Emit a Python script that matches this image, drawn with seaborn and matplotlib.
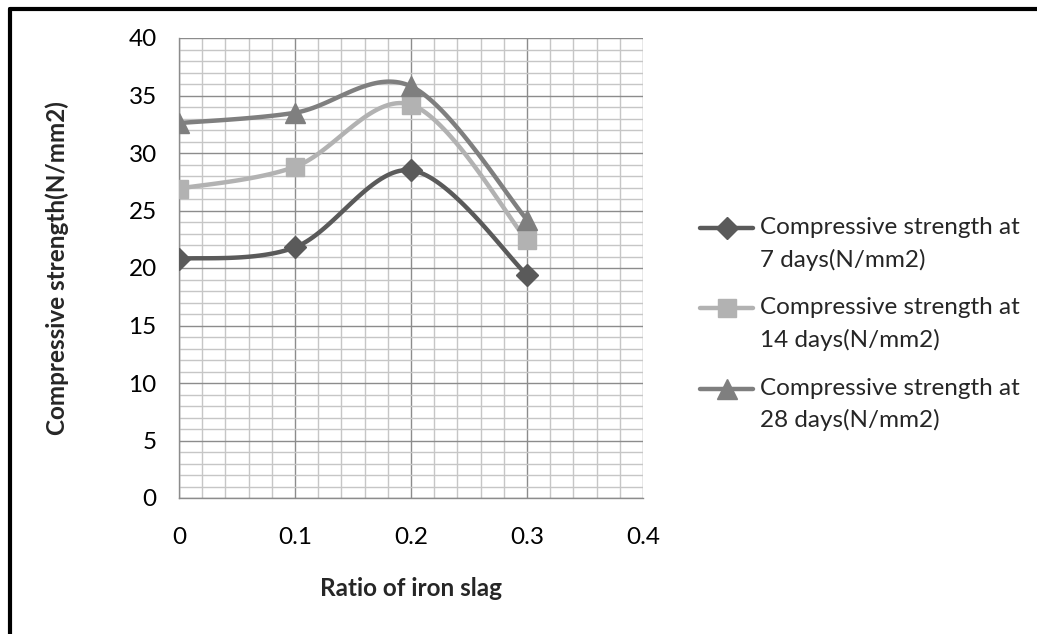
import numpy as np
import pandas as pd
import matplotlib
matplotlib.use("Agg")
import matplotlib.pyplot as plt
import seaborn as sns
from matplotlib.lines import Line2D
from matplotlib.legend_handler import HandlerLine2D
from matplotlib.ticker import MultipleLocator

ratio = [0.0, 0.1, 0.2, 0.3]
strength_7 = [20.8, 21.8, 28.5, 19.4]
strength_14 = [26.9, 28.8, 34.2, 22.4]
strength_28 = [32.6, 33.5, 35.8, 24.2]
series_labels = ["Compressive strength at\n7 days(N/mm2)",
                 "Compressive strength at\n14 days(N/mm2)",
                 "Compressive strength at\n28 days(N/mm2)"]
x_ticks = [0, 0.1, 0.2, 0.3, 0.4]
y_ticks = [0, 5, 10, 15, 20, 25, 30, 35, 40]

colors = ["#5a5a5a", "#b2b2b2", "#7f7f7f"]
markers = ["D", "s", "^"]
msizes = [11, 13, 14]
FS = 17.5

sns.set_style("white")
plt.rcParams['font.family'] = ['Lato', 'DejaVu Sans']


def smooth(xs, ys, n=40):
    """Excel-like smoothed line (Catmull-Rom Bezier) through the data points."""
    P = np.column_stack([xs, ys]).astype(float)
    m = len(P)
    out = [P[:1]]
    t = np.linspace(0, 1, n)[1:, None]
    for i in range(m - 1):
        p_prev = P[i - 1] if i > 0 else P[i]
        p_next2 = P[i + 2] if i + 2 < m else P[i + 1]
        c1 = P[i] + (P[i + 1] - p_prev) / 6
        c2 = P[i + 1] - (p_next2 - P[i]) / 6
        seg = ((1 - t) ** 3) * P[i] + 3 * ((1 - t) ** 2) * t * c1 + 3 * (1 - t) * t ** 2 * c2 + t ** 3 * P[i + 1]
        out.append(seg)
    return np.vstack(out)


class TopHandler(HandlerLine2D):
    """Place the legend symbol level with the first line of a two-line label."""
    def __init__(self, shift, **kw):
        super().__init__(**kw)
        self.shift = shift

    def create_artists(self, legend, orig_handle, xdescent, ydescent, width, height, fontsize, trans):
        return super().create_artists(legend, orig_handle, xdescent, ydescent - self.shift,
                                      width, height, fontsize, trans)


fig = plt.figure(figsize=(10.37, 6.34), dpi=100)
ax = fig.add_axes([179 / 1037, 136 / 634, (643 - 179) / 1037, (498 - 38) / 634])

handles = []
for ys, c, mk, ms, lab in zip([strength_7, strength_14, strength_28], colors, markers, msizes, series_labels):
    curve = smooth(ratio, ys)
    df = pd.DataFrame({"x": curve[:, 0], "y": curve[:, 1]})
    sns.lineplot(data=df, x="x", y="y", sort=False, estimator=None, color=c, lw=3.2, ax=ax, zorder=3)
    ax.plot(ratio, ys, linestyle="none", marker=mk, markersize=ms, color=c, zorder=4)
    handles.append(Line2D([0], [0], color=c, lw=3.2, marker=mk, markersize=ms))

ax.set_xlim(0, 0.4)
ax.set_ylim(0, 40)
ax.set_xticks(x_ticks)
ax.set_xticklabels([f"{v:g}" for v in x_ticks])
ax.set_yticks(y_ticks)
ax.set_yticklabels([str(v) for v in y_ticks])
ax.xaxis.set_minor_locator(MultipleLocator(0.02))
ax.yaxis.set_minor_locator(MultipleLocator(1))
ax.grid(which="minor", color="#c6c6c6", lw=1.0, zorder=0)
ax.grid(which="major", color="#8c8c8c", lw=1.0, zorder=1)
ax.set_axisbelow(True)
for s in ["top", "right"]:
    ax.spines[s].set_visible(False)
for s in ["left", "bottom"]:
    ax.spines[s].set_color("#8c8c8c")
    ax.spines[s].set_linewidth(1.0)
ax.tick_params(axis="both", which="major", length=8, width=1, color="#8c8c8c",
               direction="out", labelsize=FS, labelcolor="black")
ax.tick_params(axis="x", pad=13)
ax.tick_params(axis="y", pad=8)
ax.tick_params(which="minor", length=0)
ax.set_xlabel("Ratio of iron slag", fontsize=FS, fontweight="bold", labelpad=21)
ax.set_ylabel("Compressive strength(N/mm2)", fontsize=FS, fontweight="bold", labelpad=43)

hmap = {h: TopHandler(shift=22.5) for h in handles}
leg = fig.legend(handles, series_labels, loc="upper left", bbox_to_anchor=(700 / 1037, 1 - 217 / 634),
                 frameon=False, fontsize=FS, handlelength=2.2, handletextpad=0.25, labelspacing=1.1,
                 borderaxespad=0, borderpad=0, handler_map=hmap)
for t in leg.get_texts():
    t.set_linespacing(1.58)

# outer frame lines (top and left)
fig.add_artist(Line2D([10 / 1037, 1], [1 - 8.5 / 634, 1 - 8.5 / 634], color="black", lw=3, transform=fig.transFigure))
fig.add_artist(Line2D([10 / 1037, 10 / 1037], [0, 1 - 8.5 / 634], color="black", lw=3, transform=fig.transFigure))

fig.savefig("out.png", dpi=100, facecolor="white")
